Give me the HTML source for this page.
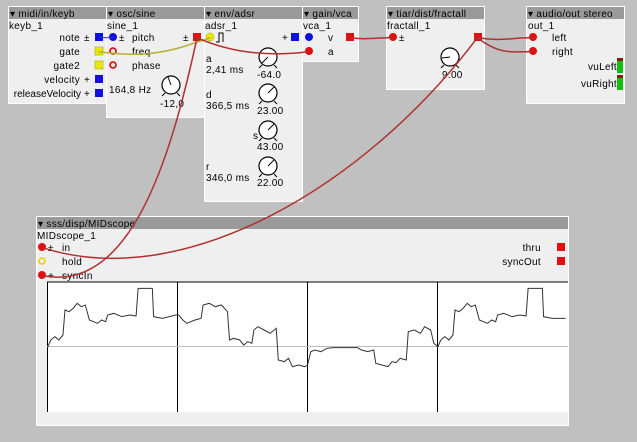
<!DOCTYPE html>
<html><head><meta charset="utf-8"><style>
html,body{margin:0;padding:0;background:#c0c0c0;width:637px;height:442px;overflow:hidden}
svg{position:absolute;left:0;top:0}
text{font-family:"Liberation Sans","DejaVu Sans",sans-serif;font-size:10px;fill:#000;letter-spacing:.3px}
</style></head><body>
<svg width="637" height="442" viewBox="0 0 637 442">
<defs>
<g id="knob"><circle r="9" fill="#fff" stroke="#000" stroke-width="1.2"/><line x1="-6" y1="8" x2="-9" y2="11" stroke="#000"/><line x1="6" y1="8" x2="9" y2="11" stroke="#000"/></g>
</defs>
<g stroke="#fff" stroke-width="1">
<rect x="8.5" y="6.5" width="98" height="97" fill="#efefef"/>
<rect x="106.5" y="6.5" width="98" height="111" fill="#efefef"/>
<rect x="204.5" y="6.5" width="98" height="195" fill="#efefef"/>
<rect x="302.5" y="6.5" width="56" height="55" fill="#efefef"/>
<rect x="386.5" y="6.5" width="98" height="83" fill="#efefef"/>
<rect x="526.5" y="6.5" width="98" height="97" fill="#efefef"/>
<rect x="36.5" y="216.5" width="532" height="209" fill="#efefef"/>
</g>
<g fill="#9a9a9a">
<rect x="9" y="7" width="97" height="12"/><rect x="107" y="7" width="97" height="12"/><rect x="205" y="7" width="97" height="12"/>
<rect x="303" y="7" width="55" height="12"/><rect x="387" y="7" width="97" height="12"/><rect x="527" y="7" width="97" height="12"/>
<rect x="37" y="217" width="531" height="12"/>
</g>
<g>
<text x="10" y="17">▾ midi/in/keyb</text><text x="108" y="17">▾ osc/sine</text><text x="206" y="17">▾ env/adsr</text>
<text x="304" y="17">▾ gain/vca</text><text x="388" y="17">▾ tiar/dist/fractall</text><text x="528" y="17">▾ audio/out stereo</text>
<text x="38" y="227">▾ sss/disp/MIDscope</text>
<text x="9" y="29">keyb_1</text><text x="107" y="29">sine_1</text><text x="205" y="29">adsr_1</text><text x="303" y="29">vca_1</text>
<text x="387" y="29">fractall_1</text><text x="528" y="29">out_1</text><text x="37" y="239">MIDscope_1</text>
</g>
<g text-anchor="end">
<text x="80" y="41">note</text><text x="80" y="55">gate</text><text x="80" y="69">gate2</text><text x="80" y="83">velocity</text><text x="81" y="97" style="letter-spacing:0">releaseVelocity</text>
</g>
<text x="84" y="41">±</text><text x="84" y="83">+</text><text x="84" y="97">+</text>
<rect x="95" y="33" width="8" height="8" fill="#1010e0"/>
<rect x="95" y="47" width="8" height="8" fill="#e8e800" stroke="#a0a000" stroke-width=".5"/>
<rect x="95" y="61" width="8" height="8" fill="#e8e800" stroke="#a0a000" stroke-width=".5"/>
<rect x="95" y="75" width="8" height="8" fill="#1010e0"/><rect x="95" y="89" width="8" height="8" fill="#1010e0"/>
<circle cx="113" cy="37" r="4" fill="#1010e0"/><text x="119" y="41">±</text><text x="132" y="41">pitch</text>
<circle cx="113" cy="51" r="3" fill="none" stroke="#e00000" stroke-width="1.6"/><text x="132" y="55">freq</text>
<circle cx="113" cy="65" r="3" fill="none" stroke="#e00000" stroke-width="1.6"/><text x="132" y="69">phase</text>
<text x="109" y="93">164,8 Hz</text>
<text x="183" y="41">±</text><rect x="193" y="33" width="8" height="8" fill="#e01010"/>
<use href="#knob" x="171" y="85"/><line x1="171" y1="85" x2="168" y2="77" stroke="#000"/>
<text x="160" y="107">-12,0</text>
<circle cx="210" cy="37" r="4" fill="#e8e800" stroke="#a0a000" stroke-width=".5"/>
<path d="M216 42 H219 V33 H223 V42" fill="none" stroke="#000"/>
<text x="282" y="41">+</text><rect x="291" y="33" width="8" height="8" fill="#1010e0"/>
<text x="206" y="62">a</text><text x="206" y="73">2,41 ms</text>
<text x="206" y="98">d</text><text x="206" y="109">366,5 ms</text>
<text x="253" y="139">s</text>
<text x="206" y="170">r</text><text x="206" y="181">346,0 ms</text>
<use href="#knob" x="268" y="57"/><line x1="268" y1="57" x2="262" y2="63" stroke="#000"/>
<use href="#knob" x="268" y="93"/><line x1="268" y1="93" x2="274" y2="87" stroke="#000"/>
<use href="#knob" x="268" y="130"/><line x1="268" y1="130" x2="274" y2="124" stroke="#000"/>
<use href="#knob" x="268" y="166"/><line x1="268" y1="166" x2="274" y2="160" stroke="#000"/>
<text x="257" y="78">-64.0</text><text x="257" y="114">23.00</text><text x="257" y="150">43.00</text><text x="257" y="186">22.00</text>
<circle cx="309" cy="37" r="4" fill="#1010e0"/><circle cx="309" cy="51" r="4" fill="#e01010"/>
<text x="328" y="41">v</text><text x="328" y="55">a</text>
<rect x="346" y="33" width="8" height="8" fill="#e01010"/>
<circle cx="393" cy="37" r="4" fill="#e01010"/><text x="399" y="41">±</text>
<rect x="474" y="33" width="8" height="8" fill="#e01010"/>
<use href="#knob" x="450" y="57"/><line x1="450" y1="57" x2="442" y2="58" stroke="#000"/>
<text x="442" y="78">9.00</text>
<circle cx="533" cy="37" r="4" fill="#e01010"/><circle cx="533" cy="51" r="4" fill="#e01010"/>
<text x="552" y="41">left</text><text x="552" y="55">right</text>
<text x="617" y="70" text-anchor="end">vuLeft</text><text x="617" y="87" text-anchor="end">vuRight</text>
<rect x="617" y="59" width="6" height="14" fill="#10c010"/><rect x="617" y="58" width="6" height="3" fill="#802000"/>
<rect x="617" y="76" width="6" height="14" fill="#10c010"/><rect x="617" y="75" width="6" height="3" fill="#802000"/>
<circle cx="42" cy="247" r="4" fill="#e01010"/><text x="48" y="251">±</text><text x="62" y="251">in</text>
<circle cx="42" cy="261" r="3" fill="none" stroke="#e8d000" stroke-width="1.6"/><text x="62" y="265">hold</text>
<circle cx="42" cy="275" r="4" fill="#e01010"/><text x="48" y="279">+</text><text x="62" y="279">syncIn</text>
<text x="541" y="251" text-anchor="end">thru</text><text x="541" y="265" text-anchor="end">syncOut</text>
<rect x="557" y="243" width="8" height="8" fill="#e01010"/><rect x="557" y="257" width="8" height="8" fill="#e01010"/>
<rect x="47" y="282" width="521" height="130" fill="#fff"/>
<line x1="47" y1="282" x2="568" y2="282" stroke="#000"/>
<line x1="47.5" y1="282" x2="47.5" y2="412" stroke="#000"/>
<line x1="177.5" y1="282" x2="177.5" y2="412" stroke="#000"/>
<line x1="307.5" y1="282" x2="307.5" y2="412" stroke="#000"/>
<line x1="437.5" y1="282" x2="437.5" y2="412" stroke="#000"/>
<line x1="47" y1="346.5" x2="568" y2="346.5" stroke="#bbb"/>
</svg>
<svg width="637" height="442" viewBox="0 0 1568 1326" preserveAspectRatio="none">
<g fill="none">
<polyline vector-effect="non-scaling-stroke" stroke="#333" fill="none" points="118,1040 125,1020 135,1010 145,1020 155,1005 160,930 170,935 180,925 190,910 200,920 210,915 220,960 230,965 240,970 250,960 260,965 265,945 280,940 300,950 320,945 335,948 340,865 375,865 378,950 400,955 432,945 440,945 450,960 460,970 480,960 495,955 500,915 515,910 530,920 545,915 560,935 565,1020 575,1015 590,1020 600,1035 610,1025 620,1030 625,990 635,980 650,990 665,1000 680,985 685,1080 700,1085 710,1075 720,1100 735,1095 750,1100 757,1095 765,1055 775,1050 790,1055 805,1045 820,1043 880,1043 890,1050 905,1055 920,1050 925,1090 940,1095 955,1100 965,1085 975,1088 985,1075 1000,1080 1005,995 1020,990 1035,1000 1045,980 1060,990 1068,1030 1078,1040 1085,1020 1095,1010 1105,1020 1115,1005 1120,930 1130,935 1140,925 1150,910 1160,920 1170,915 1180,960 1190,965 1200,970 1210,960 1220,965 1225,945 1240,940 1260,950 1280,945 1295,948 1300,865 1335,865 1338,950 1360,955 1392,955"/>
<path vector-effect="non-scaling-stroke" d="M245,113 L278,113" stroke="#3030d0"/>
<path vector-effect="non-scaling-stroke" d="M243,155 C380,180 450,140 518,113" stroke="#b8b030" stroke-width="1.5"/>
<path vector-effect="non-scaling-stroke" d="M485,113 C580,165 680,168 760,155" stroke="#b03030" stroke-width="1.5"/>
<path vector-effect="non-scaling-stroke" d="M485,113 C420,480 320,880 105,827" stroke="#b03030" stroke-width="1.5"/>
<path vector-effect="non-scaling-stroke" d="M860,113 C900,120 930,113 965,113" stroke="#b03030" stroke-width="1.5"/>
<path vector-effect="non-scaling-stroke" d="M1175,113 C1230,125 1260,113 1310,113" stroke="#b03030" stroke-width="1.5"/>
<path vector-effect="non-scaling-stroke" d="M1175,113 C1230,165 1260,155 1310,155" stroke="#b03030" stroke-width="1.5"/>
<path vector-effect="non-scaling-stroke" d="M1175,113 C900,560 450,880 105,743" stroke="#b03030" stroke-width="1.5"/>
</g>
</svg>
</body></html>
